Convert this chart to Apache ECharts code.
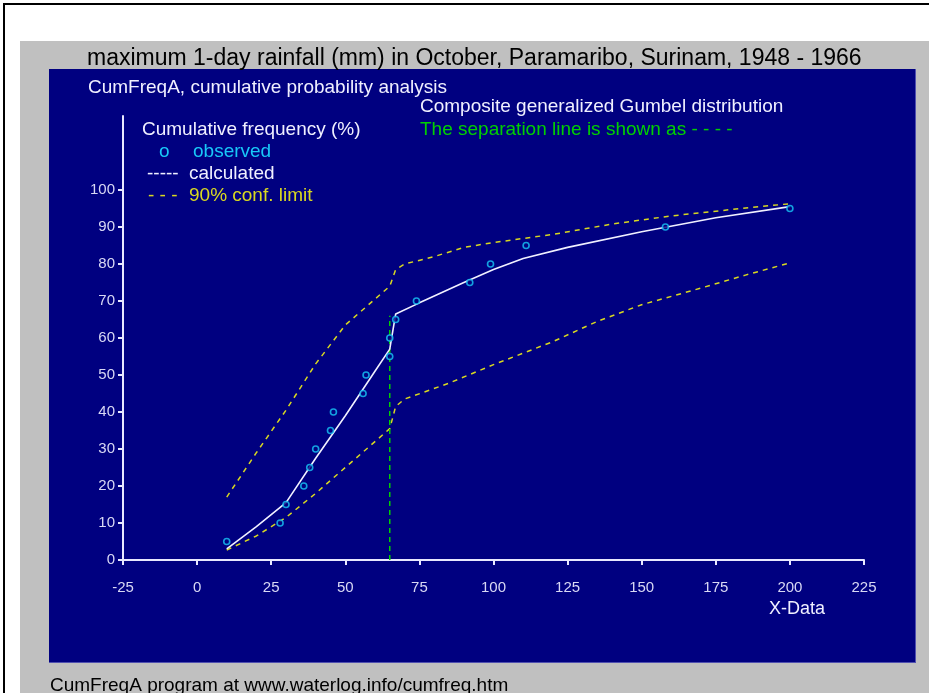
<!DOCTYPE html>
<html>
<head>
<meta charset="utf-8">
<script src="https://cdn.jsdelivr.net/npm/echarts@6/dist/echarts.min.js"></script>
<style>
  html, body { margin: 0; padding: 0; background: #ffffff; }
  #wrap { position: relative; width: 929px; height: 693px; overflow: hidden; background: #ffffff; }
  #frame { position: absolute; left: 3px; top: 3px; width: 940px; height: 700px; border-top: 2px solid #000; border-left: 2px solid #000; }
  #gray { position: absolute; left: 20px; top: 41px; width: 909px; height: 652px; background: #c0c0c0; }
  #blue { position: absolute; left: 49px; top: 69px; width: 866px; height: 593px; background: #000080; border-right: 1px solid #5050b0; border-bottom: 1px solid #5050b0; }
  #chart { position: absolute; left: 0; top: 0; width: 929px; height: 693px; }
</style>
</head>
<body>
<div id="wrap">
  <div id="frame"></div>
  <div id="gray"></div>
  <div id="blue"></div>
  <div id="chart"></div>
</div>
<script>
// ---- data ----
const xTicks = [-25, 0, 25, 50, 75, 100, 125, 150, 175, 200, 225];
const yTicks = [0, 10, 20, 30, 40, 50, 60, 70, 80, 90, 100];

const obsX = [10, 28, 30, 36, 38, 40, 45, 46, 56, 57, 65, 65, 67, 74, 92, 99, 111, 158, 200];
const obsY = [5, 10, 15, 20, 25, 30, 35, 40, 45, 50, 55, 60, 65, 70, 75, 80, 85, 90, 95];

const calcX = [10, 20, 30, 40, 50, 60, 65, 67, 75, 90, 100, 110, 125, 150, 175, 200];
const calcY = [3, 9, 15.5, 27.5, 39, 51, 57, 66.5, 69.5, 75, 78.5, 81.5, 84.5, 88.7, 92.5, 95.5];

const upX = [10, 20, 30, 40, 50, 60, 65, 67, 70, 80, 90, 100, 120, 140, 160, 180, 200];
const upY = [17, 29, 40.5, 53, 63.5, 70.5, 74, 78.5, 80, 82, 84.5, 85.8, 88, 90.8, 93, 94.7, 96.3];

const lowX = [10, 20, 30, 40, 50, 60, 65, 67, 70, 85, 100, 120, 135, 150, 170, 185, 200];
const lowY = [2.7, 6.5, 11.5, 18, 25, 32, 35.5, 41.5, 43.5, 47.8, 52.8, 59, 64.5, 69, 73.5, 77, 80.3];

const sepX = [65, 65];
const sepY = [0, 66];

const zip = (a, b) => a.map((v, i) => [v, b[i]]);

// ---- styles ----
const FONT = '"Liberation Sans", Arial, sans-serif';
const WHITE = '#f0f0ff';
const CYAN = '#18c8f8';
const YELLOW = '#d8d820';
const GREEN = '#00d000';
const AXIS = '#e8e8ff';
const LABEL = '#d8d8f4';

function txt(x, y, s, color, size) {
  return {
    type: 'text', left: x, top: y - size * 0.42, z: 10,
    style: { text: s, fill: color, font: size + 'px ' + FONT }
  };
}

const chart = echarts.init(document.getElementById('chart'), null, { renderer: 'canvas' });
chart.setOption({
  animation: false,
  backgroundColor: 'transparent',
  grid: { left: 123, right: 65, top: 116, bottom: 133 },
  xAxis: {
    type: 'value', min: -25, max: 225, interval: 25,
    axisLine: { onZero: false, lineStyle: { color: AXIS, width: 2 } },
    axisTick: { show: true, length: 5, lineStyle: { color: AXIS, width: 2 } },
    axisLabel: { color: LABEL, fontSize: 15, fontFamily: FONT, margin: 20, customValues: xTicks },
    splitLine: { show: false }
  },
  yAxis: {
    type: 'value', min: 0, max: 120, interval: 10,
    axisLine: { show: true, onZero: false, lineStyle: { color: AXIS, width: 2 } },
    axisTick: { show: true, length: 5, lineStyle: { color: AXIS, width: 2 }, customValues: yTicks },
    axisLabel: { color: LABEL, fontSize: 15, fontFamily: FONT, margin: 8, customValues: yTicks },
    splitLine: { show: false }
  },
  series: [
    {
      name: 'upper', type: 'line', data: zip(upX, upY), showSymbol: false, symbol: 'none',
      lineStyle: { color: YELLOW, width: 1.5, type: [5, 5] }, z: 2
    },
    {
      name: 'lower', type: 'line', data: zip(lowX, lowY), showSymbol: false, symbol: 'none',
      lineStyle: { color: YELLOW, width: 1.5, type: [5, 5] }, z: 2
    },
    {
      name: 'separation', type: 'line', data: zip(sepX, sepY), showSymbol: false, symbol: 'none',
      lineStyle: { color: GREEN, width: 1.5, type: [5, 4] }, z: 2
    },
    {
      name: 'calculated', type: 'line', data: zip(calcX, calcY), showSymbol: false, symbol: 'none',
      lineStyle: { color: WHITE, width: 1.6 }, z: 3
    },
    {
      name: 'observed', type: 'scatter', data: zip(obsX, obsY), symbol: 'circle', symbolSize: 6,
      itemStyle: { color: '#000080', borderColor: CYAN, borderWidth: 1.6 }, z: 5
    }
  ],
  graphic: [
    txt(87, 57, 'maximum 1-day rainfall (mm) in October, Paramaribo, Surinam, 1948 - 1966', '#000000', 23),
    txt(88, 86, 'CumFreqA, cumulative probability analysis', WHITE, 19),
    txt(420, 105, 'Composite generalized Gumbel distribution', WHITE, 19),
    txt(420, 128, 'The separation line is shown as - - - -', GREEN, 19),
    txt(142, 128, 'Cumulative frequency (%)', WHITE, 19),
    txt(159, 150, 'o', CYAN, 19),
    txt(193, 150, 'observed', CYAN, 19),
    txt(147, 172, '-----', WHITE, 19),
    txt(189, 172, 'calculated', WHITE, 19),
    txt(148, 194, '- - -', YELLOW, 19),
    txt(189, 194, '90% conf. limit', YELLOW, 19),
    txt(769, 608, 'X-Data', WHITE, 18),
    txt(50, 684, 'CumFreqA program at www.waterlog.info/cumfreq.htm', '#000000', 19)
  ]
});
</script>
</body>
</html>
